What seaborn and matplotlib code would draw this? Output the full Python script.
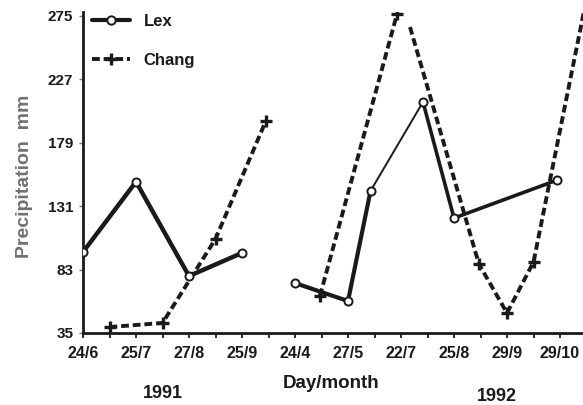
import matplotlib
matplotlib.use("Agg")
import matplotlib.pyplot as plt
from matplotlib.lines import Line2D
import pandas as pd
import seaborn as sns

# Position along the time axis (one unit = half of a labelled interval) and precipitation (mm)
lex_1991_pos = [0, 2, 4, 6]
lex_1991_mm = [96.3, 149.5, 78.1, 95.6]
lex_1992_pos = [8, 10, 10.85, 12.83, 14, 17.9]
lex_1992_mm = [72.8, 59.2, 142.5, 209.9, 122.0, 150.8]

chang_1991_pos = [1, 3, 5, 6.9]
chang_1991_mm = [39.5, 42.6, 106.2, 195.5]
chang_1992a_pos = [8.94, 11.85]
chang_1992a_mm = [63.0, 276.5]
chang_1992b_pos = [12.34, 14.94, 16, 17, 19]
chang_1992b_mm = [266.6, 87.2, 50.1, 88.7, 288.0]

tick_labels = ["24/6", "25/7", "27/8", "25/9", "24/4", "27/5", "22/7", "25/8", "29/9", "29/10"]
y_ticks = [35, 83, 131, 179, 227, 275]

# line widths of the individual Lex segments
lex_1991_widths = [3.2, 3.2, 3.2]
lex_1992_widths = [3.0, 3.0, 1.4, 2.6, 2.6]

sns.set_style("ticks")
plt.rcParams["font.family"] = ["Liberation Sans", "DejaVu Sans"]

fig = plt.figure(figsize=(5.83, 4.05), dpi=100)
ax = fig.add_axes([83 / 583, 72 / 405, 500 / 583, 321 / 405])

ink = "#1a1a1a"


def lex_segments(pos, mm, widths):
    for i, w in enumerate(widths):
        seg = pd.DataFrame({"pos": pos[i:i + 2], "mm": mm[i:i + 2]})
        sns.lineplot(data=seg, x="pos", y="mm", ax=ax, color=ink, lw=w,
                     estimator=None, sort=False, zorder=3)
    pts = pd.DataFrame({"pos": pos, "mm": mm})
    sns.scatterplot(data=pts, x="pos", y="mm", ax=ax, marker="o", s=34,
                    facecolor="white", edgecolor=ink, linewidth=1.4, zorder=5)


def chang_line(pos, mm, skip_first_marker=False):
    df = pd.DataFrame({"pos": pos, "mm": mm})
    sns.lineplot(data=df, x="pos", y="mm", ax=ax, color=ink, lw=2.8,
                 linestyle=(0, (2.0, 1.0)), estimator=None, sort=False, zorder=4)
    marks = df.iloc[1:] if skip_first_marker else df
    sns.scatterplot(data=marks, x="pos", y="mm", ax=ax, marker="+", s=70,
                    color=ink, linewidth=2.4, zorder=6)


lex_segments(lex_1991_pos, lex_1991_mm, lex_1991_widths)
lex_segments(lex_1992_pos, lex_1992_mm, lex_1992_widths)
chang_line(chang_1991_pos, chang_1991_mm)
chang_line(chang_1992a_pos, chang_1992a_mm)
chang_line(chang_1992b_pos, chang_1992b_mm, skip_first_marker=True)

ax.set_xlim(0, 500 / 26.5)
ax.set_ylim(35, 278)

ax.set_xticks(range(0, 19))
ax.set_xticklabels([tick_labels[i // 2] if i % 2 == 0 else "" for i in range(19)])
ax.set_yticks(y_ticks)
ax.set_yticklabels([str(v) for v in y_ticks])

ax.tick_params(axis="x", direction="out", length=3.5, width=1.3, color=ink,
               pad=6, labelsize=11.5)
ax.tick_params(axis="y", direction="out", length=3, width=1.0, color="#777777",
               pad=4, labelsize=11)
for lab in ax.get_xticklabels() + ax.get_yticklabels():
    lab.set_fontweight("bold")
    lab.set_color(ink)

sns.despine(ax=ax, top=True, right=True)
for side in ("left", "bottom"):
    ax.spines[side].set_linewidth(2.0)
    ax.spines[side].set_color(ink)

ax.set_ylabel("Precipitation  mm", fontsize=14, fontweight="bold", color="#707070")
ax.yaxis.set_label_coords(-0.10, 0.489)
ax.set_xlabel("Day/month", fontsize=13.5, fontweight="bold", color=ink)
ax.xaxis.set_label_coords(0.496, -0.13)

ax.text(0.16, -0.19, "1991", transform=ax.transAxes, ha="center", va="center",
        fontsize=13, fontweight="bold", color=ink)
ax.text(0.828, -0.199, "1992", transform=ax.transAxes, ha="center", va="center",
        fontsize=13, fontweight="bold", color=ink)

handles = [
    Line2D([], [], color=ink, lw=3.0, marker="o", markersize=6,
           markerfacecolor="white", markeredgecolor=ink, markeredgewidth=1.4),
    Line2D([], [], color=ink, lw=2.8, linestyle=(0, (2.0, 1.0)), marker="+",
           markersize=9, markeredgecolor=ink, markeredgewidth=2.4),
]
ax.legend(handles, ["Lex", "Chang"], loc="upper left", bbox_to_anchor=(0.018, 0.994),
          frameon=False, borderpad=0, borderaxespad=0, handlelength=2.3,
          handletextpad=0.8, labelspacing=1.45,
          prop={"size": 12, "weight": "bold"}, labelcolor=ink)

fig.savefig("out.png", dpi=100, facecolor="white")
